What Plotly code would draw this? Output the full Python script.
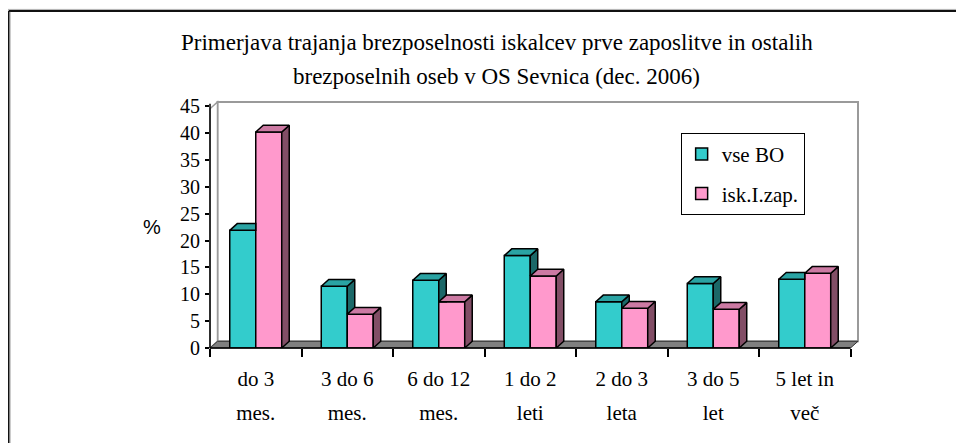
import plotly.graph_objects as go

# ---------------- data ----------------
categories = ["do 3<br>mes.", "3 do 6<br>mes.", "6 do 12<br>mes.", "1 do 2<br>leti",
              "2 do 3<br>leta", "3 do 5<br>let", "5 let in<br>več"]
vse_bo = [21.9, 11.5, 12.6, 17.2, 8.6, 12.0, 12.8]
isk_zap = [40.2, 6.3, 8.6, 13.4, 7.4, 7.2, 13.9]
series_names = ["vse BO", "isk.I.zap."]
y_tick_values = [0, 5, 10, 15, 20, 25, 30, 35, 40, 45]
title_lines = ["Primerjava trajanja brezposelnosti iskalcev prve zaposlitve in ostalih",
               "brezposelnih oseb v OS Sevnica (dec. 2006)"]
y_label = "%"

# ---------------- styling / geometry ----------------
OFF = 8                      # page body margin
W, H = 964 - OFF, 443 - OFF
FONT = "Liberation Serif"
L_PX, R_PX, T_PX, B_PX = 210 - OFF, 858.5 - OFF, 101.7 - OFF, 348 - OFF
n = len(categories)
DX = 0.082          # depth offset (category units)
DY = 1.25           # depth offset (value units)
X0, X1 = -0.5, n - 0.5 + DX
Y0, Y1 = 0, 45.78
BW = 0.284
TEAL = dict(front="#33CCCC", top="#2AA3A3", side="#1B6868")
PINK = dict(front="#FF99CC", top="#CC7AA3", side="#824E66")
plotW = R_PX - L_PX
plotH = B_PX - T_PX

cat_line1 = [c.split("<br>")[0] for c in categories]
cat_line2 = [c.split("<br>")[1] for c in categories]


def px(x):
    return (x - X0) / (X1 - X0)


def py(y):
    return (y - Y0) / (Y1 - Y0)


def ppx(p):
    return (p - OFF - L_PX) / plotW


def ppy(p):
    return (B_PX - (p - OFF)) / plotH


idx = list(range(n))
fig = go.Figure()


# ---- 3D faces derived from the data ----
def faces(vals, other, left_series):
    tops_x, tops_y, sides_x, sides_y = [], [], [], []
    for i, v in enumerate(vals):
        xl = i - BW if left_series else i
        xr = xl + BW
        o = other[i]
        if left_series and v < o:
            tx = [xl, xr, xr, xl + DX, xl]
        else:
            tx = [xl, xr, xr + DX, xl + DX, xl]
        ty = [v, v, v + DY, v + DY, v]
        tops_x += tx + [None]
        tops_y += ty + [None]
        if left_series:
            if v > o:
                sides_x += [xr, xr, xr + DX, xr + DX, xr, None]
                sides_y += [o, v, v + DY, o, o, None]
        else:
            sides_x += [xr, xr, xr + DX, xr + DX, xr, None]
            sides_y += [0, v, v + DY, DY, 0, None]
    return tops_x, tops_y, sides_x, sides_y


for vals, other, left, col in [(vse_bo, isk_zap, True, TEAL), (isk_zap, vse_bo, False, PINK)]:
    tx, ty, sx, sy = faces(vals, other, left)
    if sx:
        fig.add_trace(go.Scatter(x=sx, y=sy, mode="lines", fill="toself",
                                 fillcolor=col["side"], line=dict(color="black", width=1.5),
                                 showlegend=False, hoverinfo="skip"))
    fig.add_trace(go.Scatter(x=tx, y=ty, mode="lines", fill="toself",
                             fillcolor=col["top"], line=dict(color="black", width=1.5),
                             showlegend=False, hoverinfo="skip"))

fig.add_trace(go.Bar(x=idx, y=vse_bo, name=series_names[0], width=BW, offset=-BW,
                     marker=dict(color=TEAL["front"], line=dict(color="black", width=1.5)),
                     legendgroup="a"))
fig.add_trace(go.Bar(x=idx, y=isk_zap, name=series_names[1], width=BW, offset=0,
                     marker=dict(color=PINK["front"], line=dict(color="black", width=1.5)),
                     legendgroup="b"))
# empty trace to carry the second line of the category labels
fig.add_trace(go.Scatter(x=[], y=[], xaxis="x2", yaxis="y", showlegend=False,
                         hoverinfo="skip"))

# ---- walls, floor, axis lines, outer frame ----
shapes = []
shapes.append(dict(type="rect", xref="paper", yref="paper",
                   x0=px(X0 + DX), x1=px(n - 0.5 + DX), y0=py(DY), y1=py(Y1),
                   line=dict(color="#9A9A9A", width=2), fillcolor="white", layer="below"))
shapes.append(dict(type="path", xref="paper", yref="paper",
                   path=f"M{px(X0)},{py(0)} L{px(X0)},{py(Y1 - DY)} L{px(X0 + DX)},{py(Y1)} "
                        f"L{px(X0 + DX)},{py(DY)} Z",
                   line=dict(color="#9A9A9A", width=1.5), fillcolor="white", layer="below"))
shapes.append(dict(type="path", xref="paper", yref="paper",
                   path=f"M{px(X0)},{py(0)} L{px(n - 0.5)},{py(0)} L{px(n - 0.5 + DX)},{py(DY)} "
                        f"L{px(X0 + DX)},{py(DY)} Z",
                   line=dict(color="#333333", width=1), fillcolor="#808080", layer="below"))
shapes.append(dict(type="line", xref="paper", yref="paper",
                   x0=px(X0), x1=px(n - 0.5), y0=py(0), y1=py(0),
                   line=dict(color="black", width=1.5)))
shapes.append(dict(type="line", xref="paper", yref="paper",
                   x0=px(X0), x1=px(X0), y0=py(0), y1=py(45) + 0.01,
                   line=dict(color="black", width=1.5)))
shapes.append(dict(type="line", xref="paper", yref="paper",
                   x0=ppx(7.5), x1=ppx(990), y0=ppy(9), y1=ppy(9),
                   line=dict(color="#B0B0B0", width=1)))
shapes.append(dict(type="line", xref="paper", yref="paper",
                   x0=ppx(8.5), x1=ppx(990), y0=ppy(10.5), y1=ppy(10.5),
                   line=dict(color="#111111", width=2)))
shapes.append(dict(type="line", xref="paper", yref="paper",
                   x0=ppx(8.5), x1=ppx(8.5), y0=ppy(10.5), y1=ppy(470),
                   line=dict(color="#111111", width=2)))
shapes.append(dict(type="line", xref="paper", yref="paper",
                   x0=ppx(10), x1=ppx(10), y0=ppy(11.5), y1=ppy(470),
                   line=dict(color="#B0B0B0", width=1)))

TITLE_FS = 23
annotations = [
    dict(text=title_lines[0], xref="paper", yref="paper", x=ppx(497), y=ppy(50 - 0.35 * TITLE_FS),
         showarrow=False, xanchor="center", yanchor="middle",
         font=dict(family=FONT, size=TITLE_FS, color="black")),
    dict(text=title_lines[1], xref="paper", yref="paper", x=ppx(497), y=ppy(84.5 - 0.35 * TITLE_FS),
         showarrow=False, xanchor="center", yanchor="middle",
         font=dict(family=FONT, size=TITLE_FS, color="black")),
    dict(text=y_label, xref="paper", yref="paper", x=ppx(152), y=ppy(227),
         showarrow=False, xanchor="center", yanchor="middle",
         font=dict(family="Liberation Sans", size=20, color="black")),
]

fig.update_layout(
    width=W, height=H,
    margin=dict(l=L_PX, r=W - R_PX, t=T_PX, b=H - B_PX, pad=0),
    paper_bgcolor="white", plot_bgcolor="rgba(0,0,0,0)",
    barmode="overlay",
    font=dict(family=FONT, size=20, color="black"),
    xaxis=dict(range=[X0, X1], tickvals=idx, ticktext=cat_line1, ticks="",
               showgrid=False, zeroline=False, showline=False,
               ticklabelstandoff=16,
               minor=dict(tick0=-0.5, dtick=1, ticks="outside", ticklen=8,
                          tickcolor="black", tickwidth=1.5, showgrid=False),
               tickfont=dict(family=FONT, size=21, color="black")),
    xaxis2=dict(range=[X0, X1], overlaying="x", anchor="y", side="bottom",
                tickvals=idx, ticktext=cat_line2, ticks="",
                showgrid=False, zeroline=False, showline=False,
                ticklabelstandoff=50,
                tickfont=dict(family=FONT, size=21, color="black")),
    yaxis=dict(range=[Y0, Y1], tickvals=y_tick_values, ticks="outside", ticklen=4,
               tickcolor="black", tickwidth=1.5, showgrid=False, zeroline=False,
               showline=False, ticklabelstandoff=1,
               tickfont=dict(family=FONT, size=20, color="black")),
    legend=dict(x=ppx(681), y=ppy(132.7), xanchor="left", yanchor="top",
                bordercolor="black", borderwidth=1, bgcolor="white",
                traceorder="grouped", tracegroupgap=9,
                font=dict(family=FONT, size=21, color="black")),
    shapes=shapes,
    annotations=annotations,
)

fig.write_html("out.html")
